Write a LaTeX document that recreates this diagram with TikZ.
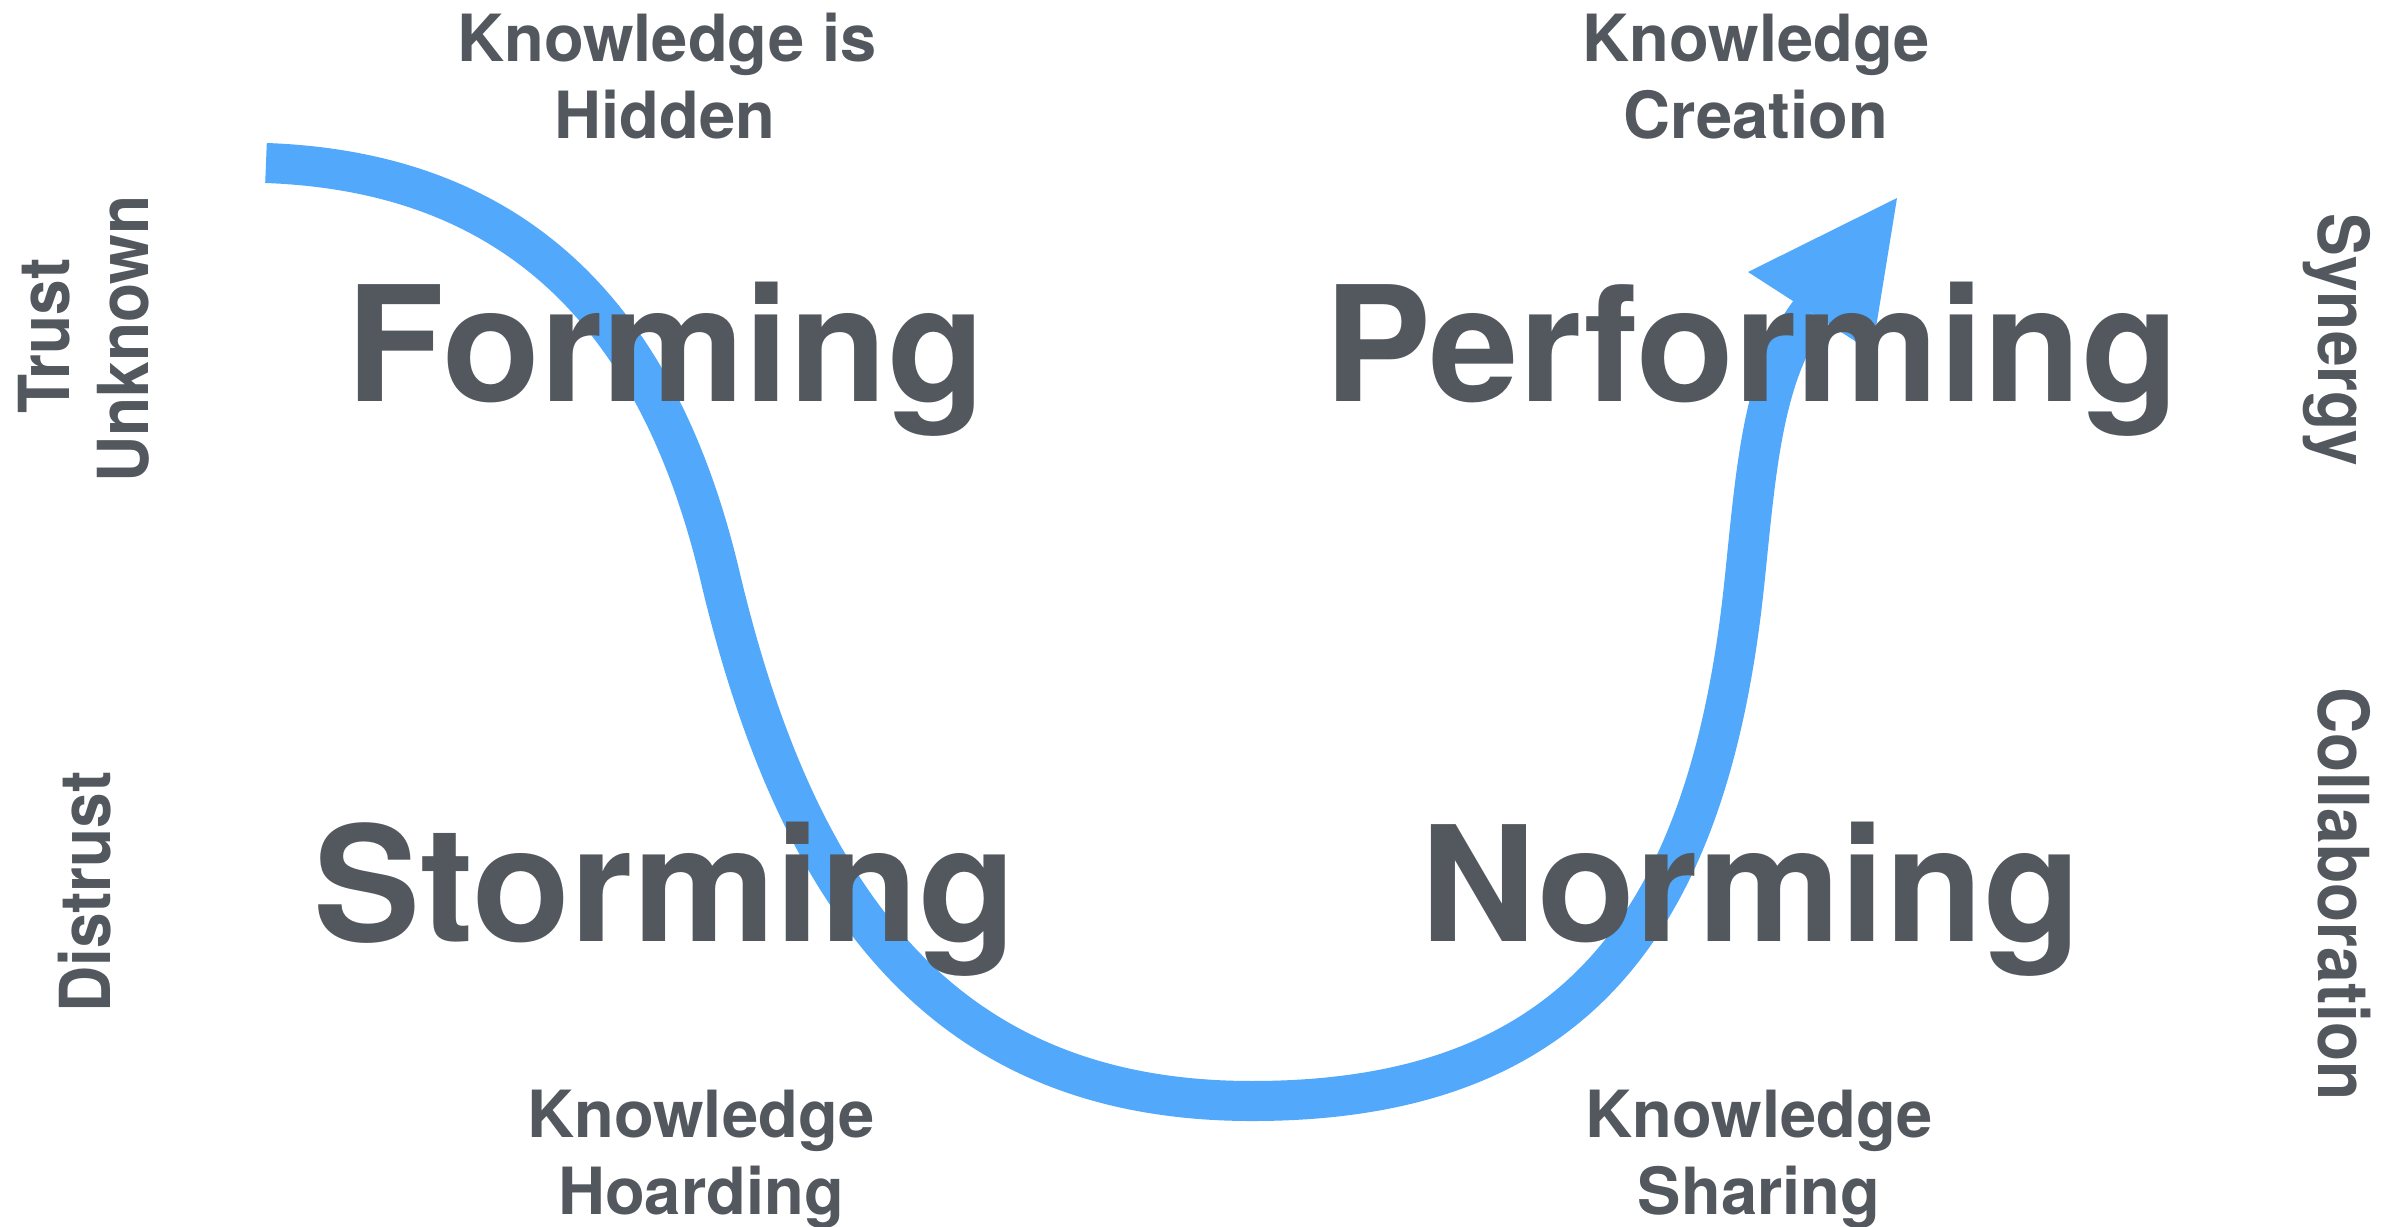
\documentclass[tikz,border=0pt]{standalone}
\usepackage{fontspec}
\setmainfont{TeX Gyre Heros}
\newfontfamily\sidefont[FakeStretch=0.91]{TeX Gyre Heros}
\definecolor{txt}{RGB}{83,88,95}
\definecolor{flow}{RGB}{82,168,250}
\begin{document}
\begin{tikzpicture}[x=0.01cm,y=0.01cm,
  big/.style={text=txt, inner sep=0pt, anchor=base, font=\fontsize{45.6}{50}\selectfont\bfseries},
  know/.style={text=txt, inner sep=0pt, anchor=base, font=\fontsize{18.5}{22}\selectfont\bfseries},
  side/.style={text=txt, inner sep=0pt, anchor=base, font=\sidefont\fontsize{20}{24}\selectfont\bfseries},
  flowline/.style={draw=flow, line width=0.4cm, line cap=butt}
]
\useasboundingbox (0,0) rectangle (2397,1226);
% curve geometry
\coordinate (S) at (266,1063);
\coordinate (C1) at (486,1055);
\coordinate (C2) at (651,942);
\coordinate (I1) at (720,650);
\coordinate (C3) at (802.8,299.7);
\coordinate (C4) at (962,125);
\coordinate (B) at (1252,125);
\coordinate (C5) at (1566,125);
\coordinate (C6) at (1707,292);
\coordinate (I2) at (1744,640);
\coordinate (C7) at (1755.6,749.4);
\coordinate (C8) at (1761.4,850.4);
\coordinate (E) at (1810,914);
\coordinate (T) at (1897,1028);
\coordinate (L) at (1748,954);
\coordinate (R) at (1872,874);
\draw[flowline] (S) .. controls (C1) and (C2) .. (I1)
  .. controls (C3) and (C4) .. (B)
  .. controls (C5) and (C6) .. (I2)
  .. controls (C7) and (C8) .. (E);
\fill[flow] (T) -- (L) -- (R) -- cycle;
% stage names
\node[big] (forming) at (666,825) {Forming};
\node[big] (performing) at (1752,825) {Performing};
\node[big] (storming) at (665,285) {Storming};
\node[big] (norming) at (1751,285) {Norming};
% knowledge labels
\node[know] (kh1) at (667,1164) {Knowledge is};
\node[know] (kh2) at (665,1087) {Hidden};
\node[know] (kc1) at (1756,1164) {Knowledge};
\node[know] (kc2) at (1756,1087) {Creation};
\node[know] (ko1) at (701,89) {Knowledge};
\node[know] (ko2) at (701,12) {Hoarding};
\node[know] (ks1) at (1759,89) {Knowledge};
\node[know] (ks2) at (1759,12) {Sharing};
% side labels
\node[side, rotate=90] (trust) at (69,890) {Trust};
\node[side, rotate=90] (unknown) at (148,887) {Unknown};
\node[side, rotate=90] (distrust) at (110,334) {Distrust};
\node[side, rotate=-90] (synergy) at (2318,886) {Synergy};
\node[side, rotate=-90] (collab) at (2318,332) {Collaboration};
\end{tikzpicture}
\end{document}
